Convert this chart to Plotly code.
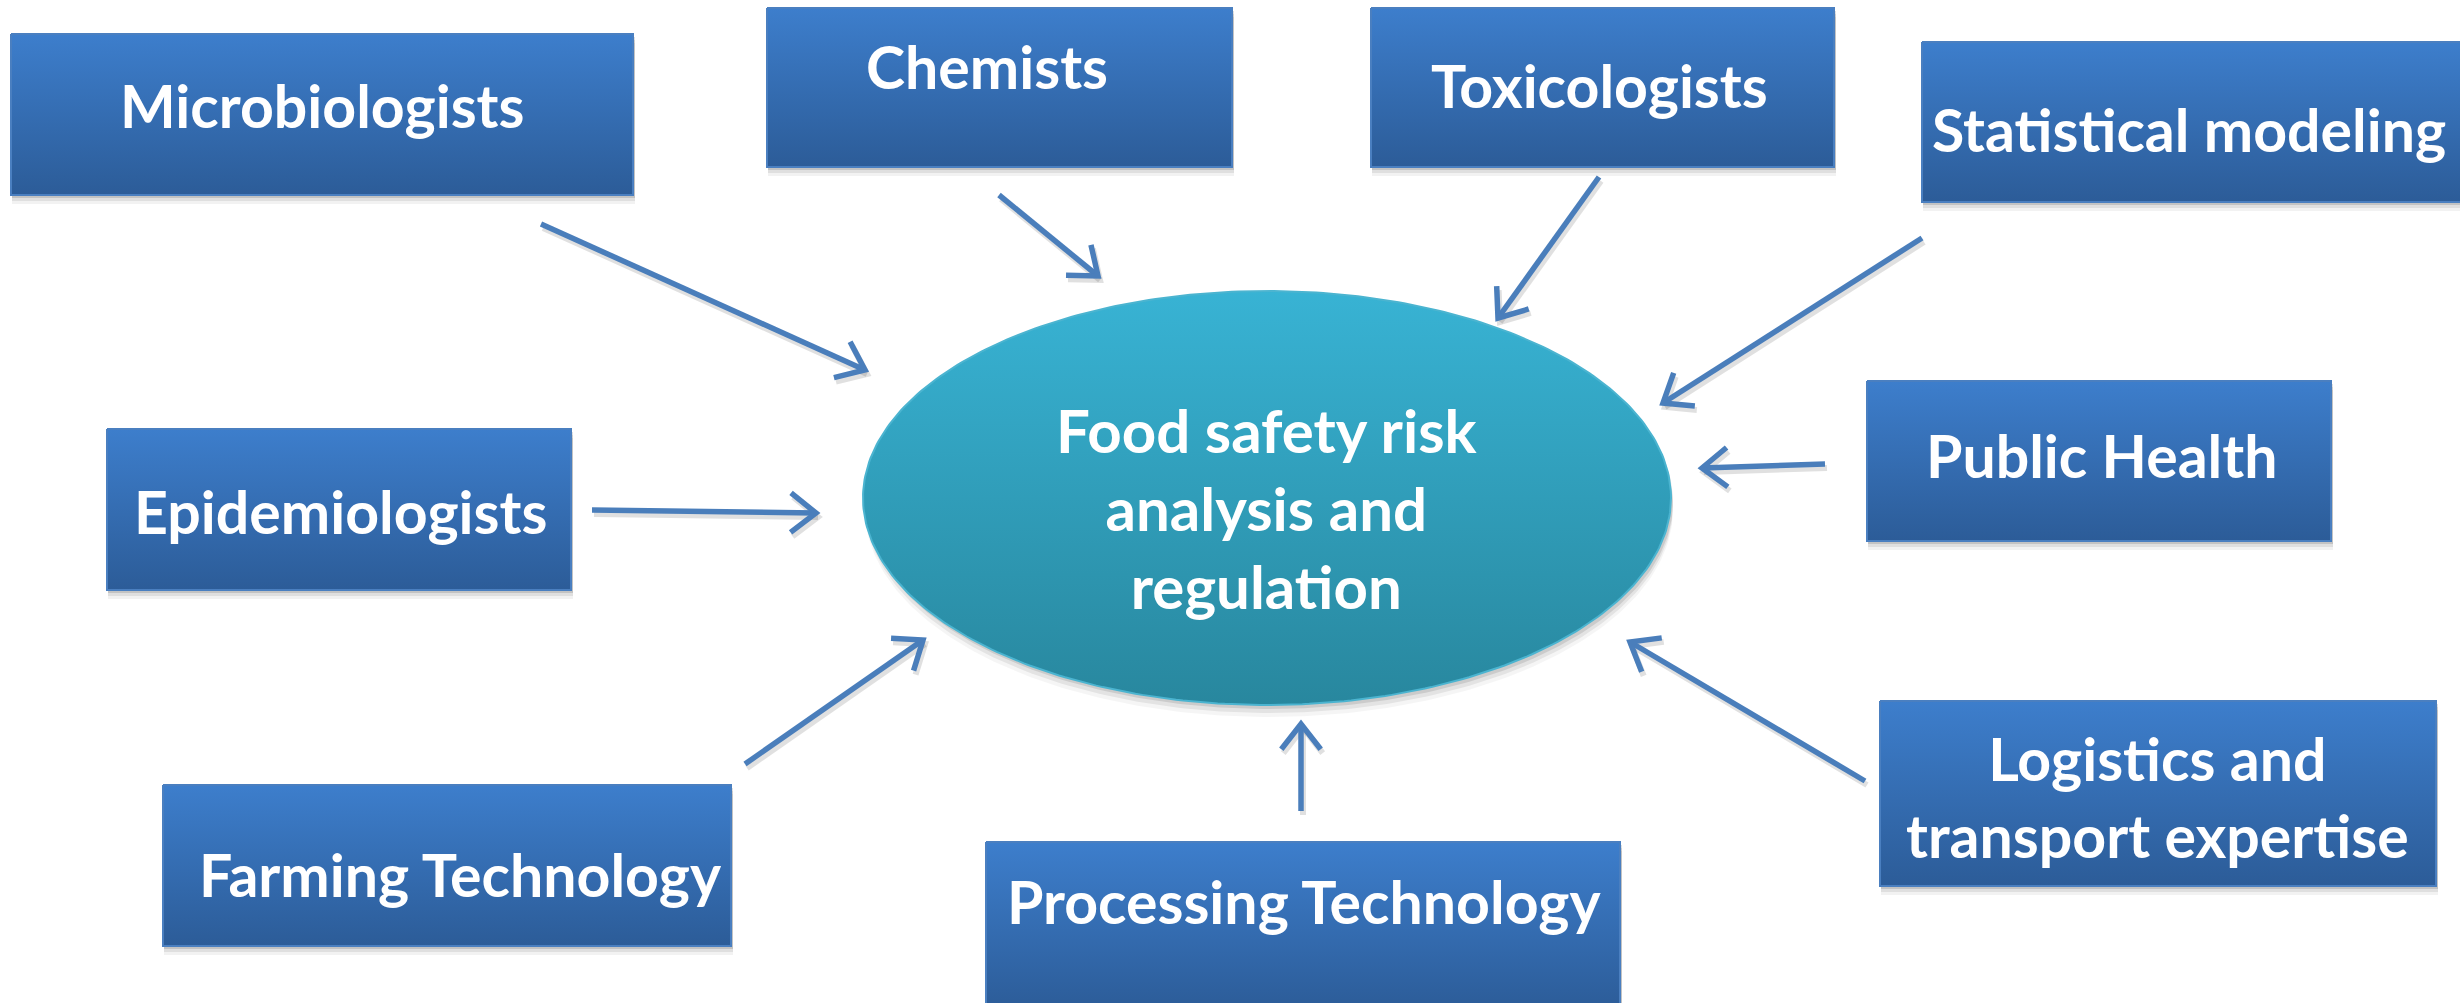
import numpy as np
import plotly.graph_objects as go

W, H = 2460, 1003

# ---- data ----
labels = ["Microbiologists", "Chemists", "Toxicologists", "Statistical modeling",
          "Public Health", "Logistics and<br>transport expertise", "Processing Technology",
          "Farming Technology", "Epidemiologists"]
box_x0 = [11, 767, 1371, 1922, 1867, 1880, 986, 163, 107]
box_x1 = [633, 1232, 1834, 2470, 2331, 2436, 1620, 731, 571]
box_y0 = [34, 8, 8, 42, 381, 701, 842, 785, 429]
box_y1 = [195, 167, 167, 202, 541, 886, 1010, 946, 590]
text_x = [322, 987, 1599, 2189, 2101, 2157, 1304, 460, 340]
text_y = [105, 66, 85, 129, 455, 797, 901, 874, 511]

center_label = "Food safety risk<br>analysis and<br>regulation"
ell_cx, ell_cy, ell_rx, ell_ry = 1267, 498, 404, 207
center_text_y = 508

arrow_tail_x = [541, 999, 1599, 1922, 1825, 1865, 1301, 745, 592]
arrow_tail_y = [224, 195, 177, 238, 464, 781, 811, 764, 510]
arrow_head_x = [865, 1098, 1498, 1663, 1702, 1630, 1301, 923, 816]
arrow_head_y = [370, 276, 318, 403, 468, 642, 724, 640, 513]

BOX_TOP, BOX_BOT, BOX_EDGE = "#3d7ecc", "#2c5c98", "#4a7fc0"
ELL_TOP, ELL_BOT, ELL_EDGE = "#38b3d4", "#28879e", "#4bb4d0"
ARROW = "#4a7ebb"

fig = go.Figure()

def rect_path(x0, x1, y0, y1):
    return [x0, x1, x1, x0, x0], [y0, y0, y1, y1, y0]

# shadows for boxes
for x0, x1, y0, y1 in zip(box_x0, box_x1, box_y0, box_y1):
    for k, a in [(9, 0.05), (6, 0.08), (3, 0.12)]:
        xs, ys = rect_path(x0 + 1, x1 + 2, y0 + k, y1 + k)
        fig.add_trace(go.Scatter(x=xs, y=ys, mode="lines", fill="toself",
                                 fillcolor=f"rgba(0,0,0,{a})", line=dict(width=0),
                                 hoverinfo="skip", showlegend=False))

# boxes
for x0, x1, y0, y1 in zip(box_x0, box_x1, box_y0, box_y1):
    xs, ys = rect_path(x0, x1, y0, y1)
    fig.add_trace(go.Scatter(x=xs, y=ys, mode="lines", fill="toself",
                             fillgradient=dict(type="vertical",
                                               colorscale=[[0, BOX_TOP], [1, BOX_BOT]],
                                               start=y0, stop=y1),
                             line=dict(width=2, color=BOX_EDGE),
                             hoverinfo="skip", showlegend=False))

# ellipse shadow + ellipse
t = np.linspace(0, 2 * np.pi, 361)
for k, a in [(12, 0.04), (8, 0.07), (4, 0.1)]:
    fig.add_trace(go.Scatter(x=ell_cx + 2 + ell_rx * np.cos(t), y=ell_cy + k + ell_ry * np.sin(t),
                             mode="lines", fill="toself", fillcolor=f"rgba(0,0,0,{a})",
                             line=dict(width=0), hoverinfo="skip", showlegend=False))
fig.add_trace(go.Scatter(x=ell_cx + ell_rx * np.cos(t), y=ell_cy + ell_ry * np.sin(t),
                         mode="lines", fill="toself",
                         fillgradient=dict(type="vertical",
                                           colorscale=[[0, ELL_TOP], [1, ELL_BOT]],
                                           start=ell_cy - ell_ry, stop=ell_cy + ell_ry),
                         line=dict(width=2, color=ELL_EDGE),
                         hoverinfo="skip", showlegend=False))

# arrows
head_len, head_ang = 32, np.deg2rad(38)
for tx, ty, hx, hy in zip(arrow_tail_x, arrow_tail_y, arrow_head_x, arrow_head_y):
    ang = np.arctan2(hy - ty, hx - tx)
    lx = hx - head_len * np.cos(ang - head_ang)
    ly = hy - head_len * np.sin(ang - head_ang)
    rx = hx - head_len * np.cos(ang + head_ang)
    ry = hy - head_len * np.sin(ang + head_ang)
    # soft shadow
    fig.add_trace(go.Scatter(x=[tx + 2, hx + 2, None, lx + 2, hx + 2, rx + 2],
                             y=[ty + 4, hy + 4, None, ly + 4, hy + 4, ry + 4],
                             mode="lines", line=dict(width=6, color="rgba(0,0,0,0.12)"),
                             hoverinfo="skip", showlegend=False))
    fig.add_trace(go.Scatter(x=[tx, hx, None, lx, hx, rx], y=[ty, hy, None, ly, hy, ry],
                             mode="lines", line=dict(width=5.5, color=ARROW),
                             hoverinfo="skip", showlegend=False))

# labels
for lab, x, y in zip(labels, text_x, text_y):
    fig.add_annotation(x=x, y=y, text=lab, showarrow=False, xanchor="center", yanchor="middle",
                       font=dict(family="Lato", size=59, color="white", weight="bold"))
fig.add_annotation(x=ell_cx, y=center_text_y, text=center_label, showarrow=False,
                   xanchor="center", yanchor="middle",
                   font=dict(family="Lato", size=60, color="white", weight="bold"))

fig.update_xaxes(range=[0, W], visible=False, fixedrange=True)
fig.update_yaxes(range=[H, 0], visible=False, fixedrange=True)
fig.update_layout(width=W, height=H, margin=dict(l=0, r=0, t=0, b=0),
                  plot_bgcolor="white", paper_bgcolor="white", showlegend=False)

fig.write_html("out.html", config={"displayModeBar": False},
               post_script="document.body.style.margin='0';document.body.style.overflow='hidden';")
